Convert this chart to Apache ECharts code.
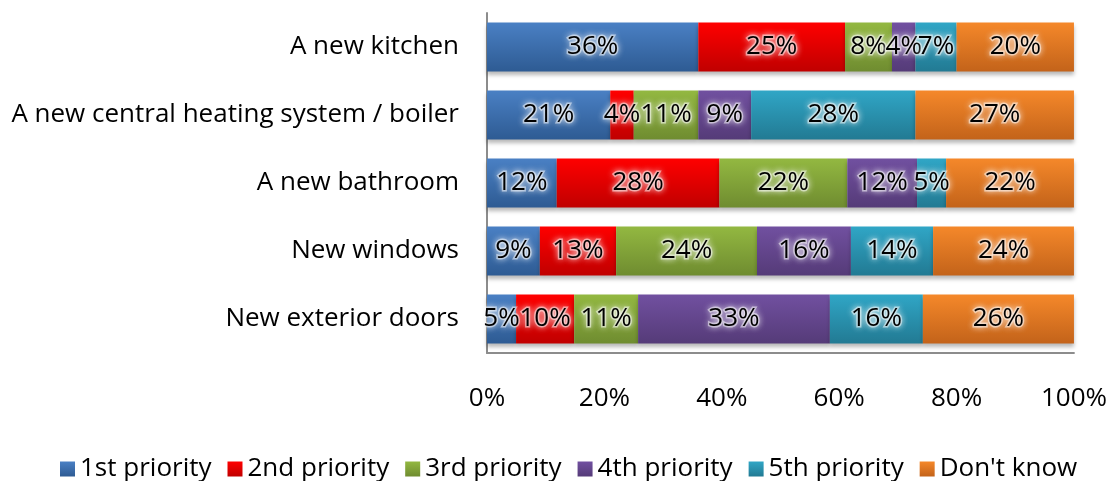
<!DOCTYPE html>
<html>
<head>
<meta charset="utf-8">
<script src="https://cdn.jsdelivr.net/npm/echarts@6/dist/echarts.min.js"></script>
<style>
  html, body { margin: 0; padding: 0; background: #ffffff; }
  #chart { width: 1110px; height: 481px; }
</style>
</head>
<body>
<div id="chart"></div>
<script>
// Home improvement priorities (percent of respondents), top row first
const categories = [
  'A new kitchen',
  'A new central heating system / boiler',
  'A new bathroom',
  'New windows',
  'New exterior doors'
];
const seriesNames = ['1st priority', '2nd priority', '3rd priority', '4th priority', '5th priority', "Don't know"];
const firstPriority  = [36, 21, 12,  9,  5];
const secondPriority = [25,  4, 28, 13, 10];
const thirdPriority  = [ 8, 11, 22, 24, 11];
const fourthPriority = [ 4,  9, 12, 16, 33];
const fifthPriority  = [ 7, 28,  5, 14, 16];
const dontKnow       = [20, 27, 22, 24, 26];
const axisTicks = ['0%', '20%', '40%', '60%', '80%', '100%'];

const seriesValues = [firstPriority, secondPriority, thirdPriority, fourthPriority, fifthPriority, dontKnow];

// top / bottom gradient stops per series
const palette = [
  ['#4a80c4', '#2e5b93'],
  ['#ff0000', '#c00000'],
  ['#93b841', '#6f8c30'],
  ['#7150a0', '#553b78'],
  ['#30a6c6', '#227a93'],
  ['#f5882a', '#c3631a']
];

// each bar is shown as a share of its row total (100% stacked)
const rowTotals = categories.map((_, i) => seriesValues.reduce((s, arr) => s + arr[i], 0));

const FONT = '"Open Sans", "Noto Sans", sans-serif';

const series = seriesNames.map((name, k) => ({
  name: name,
  type: 'bar',
  stack: 'total',
  barWidth: 49,
  data: seriesValues[k].map((v, i) => ({ value: v / rowTotals[i] * 100, raw: v })),
  itemStyle: {
    color: new echarts.graphic.LinearGradient(0, 0, 0, 1, [
      { offset: 0, color: palette[k][0] },
      { offset: 1, color: palette[k][1] }
    ]),
    shadowColor: 'rgba(0,0,0,0.28)',
    shadowBlur: 4,
    shadowOffsetY: 3
  },
  label: {
    show: true,
    position: 'inside',
    formatter: p => p.data.raw + '%',
    fontFamily: FONT,
    fontSize: 26,
    color: '#000',
    textBorderColor: 'rgba(255,255,255,0.5)',
    textBorderWidth: 3,
    textShadowColor: 'rgba(255,255,255,0.9)',
    textShadowBlur: 6
  },
  emphasis: { disabled: true }
}));

const chart = echarts.init(document.getElementById('chart'), null, { renderer: 'canvas' });
chart.setOption({
  animation: false,
  backgroundColor: '#ffffff',
  grid: { left: 487, right: 32, top: 13, bottom: 128, containLabel: false },
  legend: {
    data: seriesNames,
    bottom: -6,
    left: 55,
    itemWidth: 15,
    itemHeight: 15,
    itemGap: 16,
    icon: 'rect',
    textStyle: { fontFamily: FONT, fontSize: 26, color: '#000' }
  },
  xAxis: {
    type: 'value',
    min: 0,
    max: 100,
    interval: 20,
    axisLine: { show: true, lineStyle: { color: '#8c8c8c', width: 2 } },
    axisTick: { show: false },
    splitLine: { show: false },
    axisLabel: {
      margin: 33,
      fontFamily: FONT,
      fontSize: 26,
      color: '#000',
      formatter: v => axisTicks[Math.round(v / 20)]
    }
  },
  yAxis: {
    type: 'category',
    inverse: true,
    data: categories,
    axisLine: { show: true, lineStyle: { color: '#8c8c8c', width: 2 } },
    axisTick: { show: false },
    axisLabel: {
      margin: 28,
      fontFamily: FONT,
      fontSize: 26,
      color: '#000'
    }
  },
  series: series
});
</script>
</body>
</html>
